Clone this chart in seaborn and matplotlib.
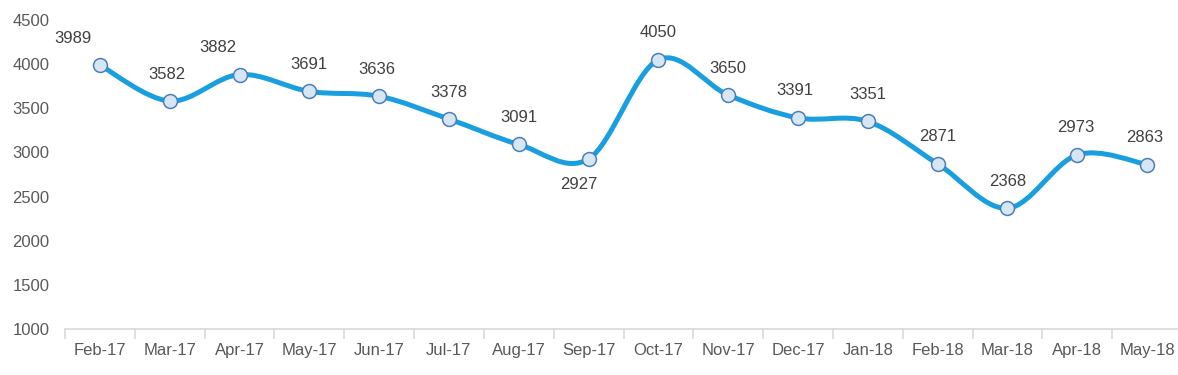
import matplotlib
matplotlib.use("Agg")
import matplotlib.pyplot as plt
import numpy as np
import seaborn as sns
from matplotlib.path import Path
from matplotlib.patches import PathPatch
from matplotlib.ticker import FixedLocator, MultipleLocator

months = ["Feb-17", "Mar-17", "Apr-17", "May-17", "Jun-17", "Jul-17", "Aug-17", "Sep-17",
          "Oct-17", "Nov-17", "Dec-17", "Jan-18", "Feb-18", "Mar-18", "Apr-18", "May-18"]
values = [3989, 3582, 3882, 3691, 3636, 3378, 3091, 2927,
          4050, 3650, 3391, 3351, 2871, 2368, 2973, 2863]

# label placement tweaks (pixels), as in the source chart
label_dx = [-27, -3, -22, 0, -2, 0, 0, -10, 0, 0, -3, 0, 0, 0, -2, -2]
label_below = {"Sep-17"}

LINE = "#199fdf"
MARK_FACE = "#d6e7f3"
MARK_EDGE = "#4d7dbd"
TICK_TXT = "#595959"
LABEL_TXT = "#404040"

sns.set_theme(style="white")
plt.rcParams["font.family"] = ["Liberation Sans", "DejaVu Sans"]

fig = plt.figure(figsize=(11.78, 3.75), dpi=100)
ax = fig.add_axes([65 / 1178, 1 - 329 / 375, (1182 - 65) / 1178, (329 - 20) / 375])


def smooth_path(xs, ys):
    """Excel-style smoothed line: cubic Bezier through every point."""
    pts = np.column_stack([xs, ys]).astype(float)
    padded = np.vstack([pts[0], pts, pts[-1]])
    verts = [pts[0]]
    codes = [Path.MOVETO]
    for i in range(len(pts) - 1):
        p0, p1, p2, p3 = padded[i], padded[i + 1], padded[i + 2], padded[i + 3]
        c1 = p1 + (p2 - p0) / 6.0
        c2 = p2 - (p3 - p1) / 6.0
        verts += [c1, c2, p2]
        codes += [Path.CURVE4] * 3
    return Path(verts, codes)


xpos = np.arange(len(months))
ax.add_patch(PathPatch(smooth_path(xpos, values), fill=False, edgecolor=LINE,
                       linewidth=3.6, capstyle="round", joinstyle="round", zorder=2))

sns.scatterplot(x=months, y=values, ax=ax, s=100, color=MARK_FACE,
                edgecolor=MARK_EDGE, linewidth=1.1, zorder=3, legend=False)

for i, (m, v) in enumerate(zip(months, values)):
    dy = -26 if m in label_below else 27
    ax.annotate(f"{v}", (i, v), xytext=(label_dx[i], dy), textcoords="offset pixels",
                ha="center", va="center", fontsize=12, color=LABEL_TXT)

ax.set_xlim(-0.5, len(months) - 0.5)
ax.set_ylim(1000, 4500)
ax.yaxis.set_major_locator(MultipleLocator(500))
ax.set_xticks(xpos)
ax.set_xticklabels(months)
ax.xaxis.set_minor_locator(FixedLocator(np.arange(-0.5, len(months), 1.0)))

for side in ["top", "right", "left"]:
    ax.spines[side].set_visible(False)
ax.spines["bottom"].set_color("#d9d9d9")
ax.spines["bottom"].set_linewidth(1.2)

ax.tick_params(axis="x", which="major", length=0, pad=10, labelsize=12, labelcolor=TICK_TXT)
ax.tick_params(axis="x", which="minor", length=7, width=1.2, color="#d9d9d9", bottom=True)
ax.tick_params(axis="y", length=0, pad=11, labelsize=12, labelcolor=TICK_TXT)
ax.grid(False)
ax.set_xlabel("")
ax.set_ylabel("")

fig.savefig("out.png", dpi=100)
